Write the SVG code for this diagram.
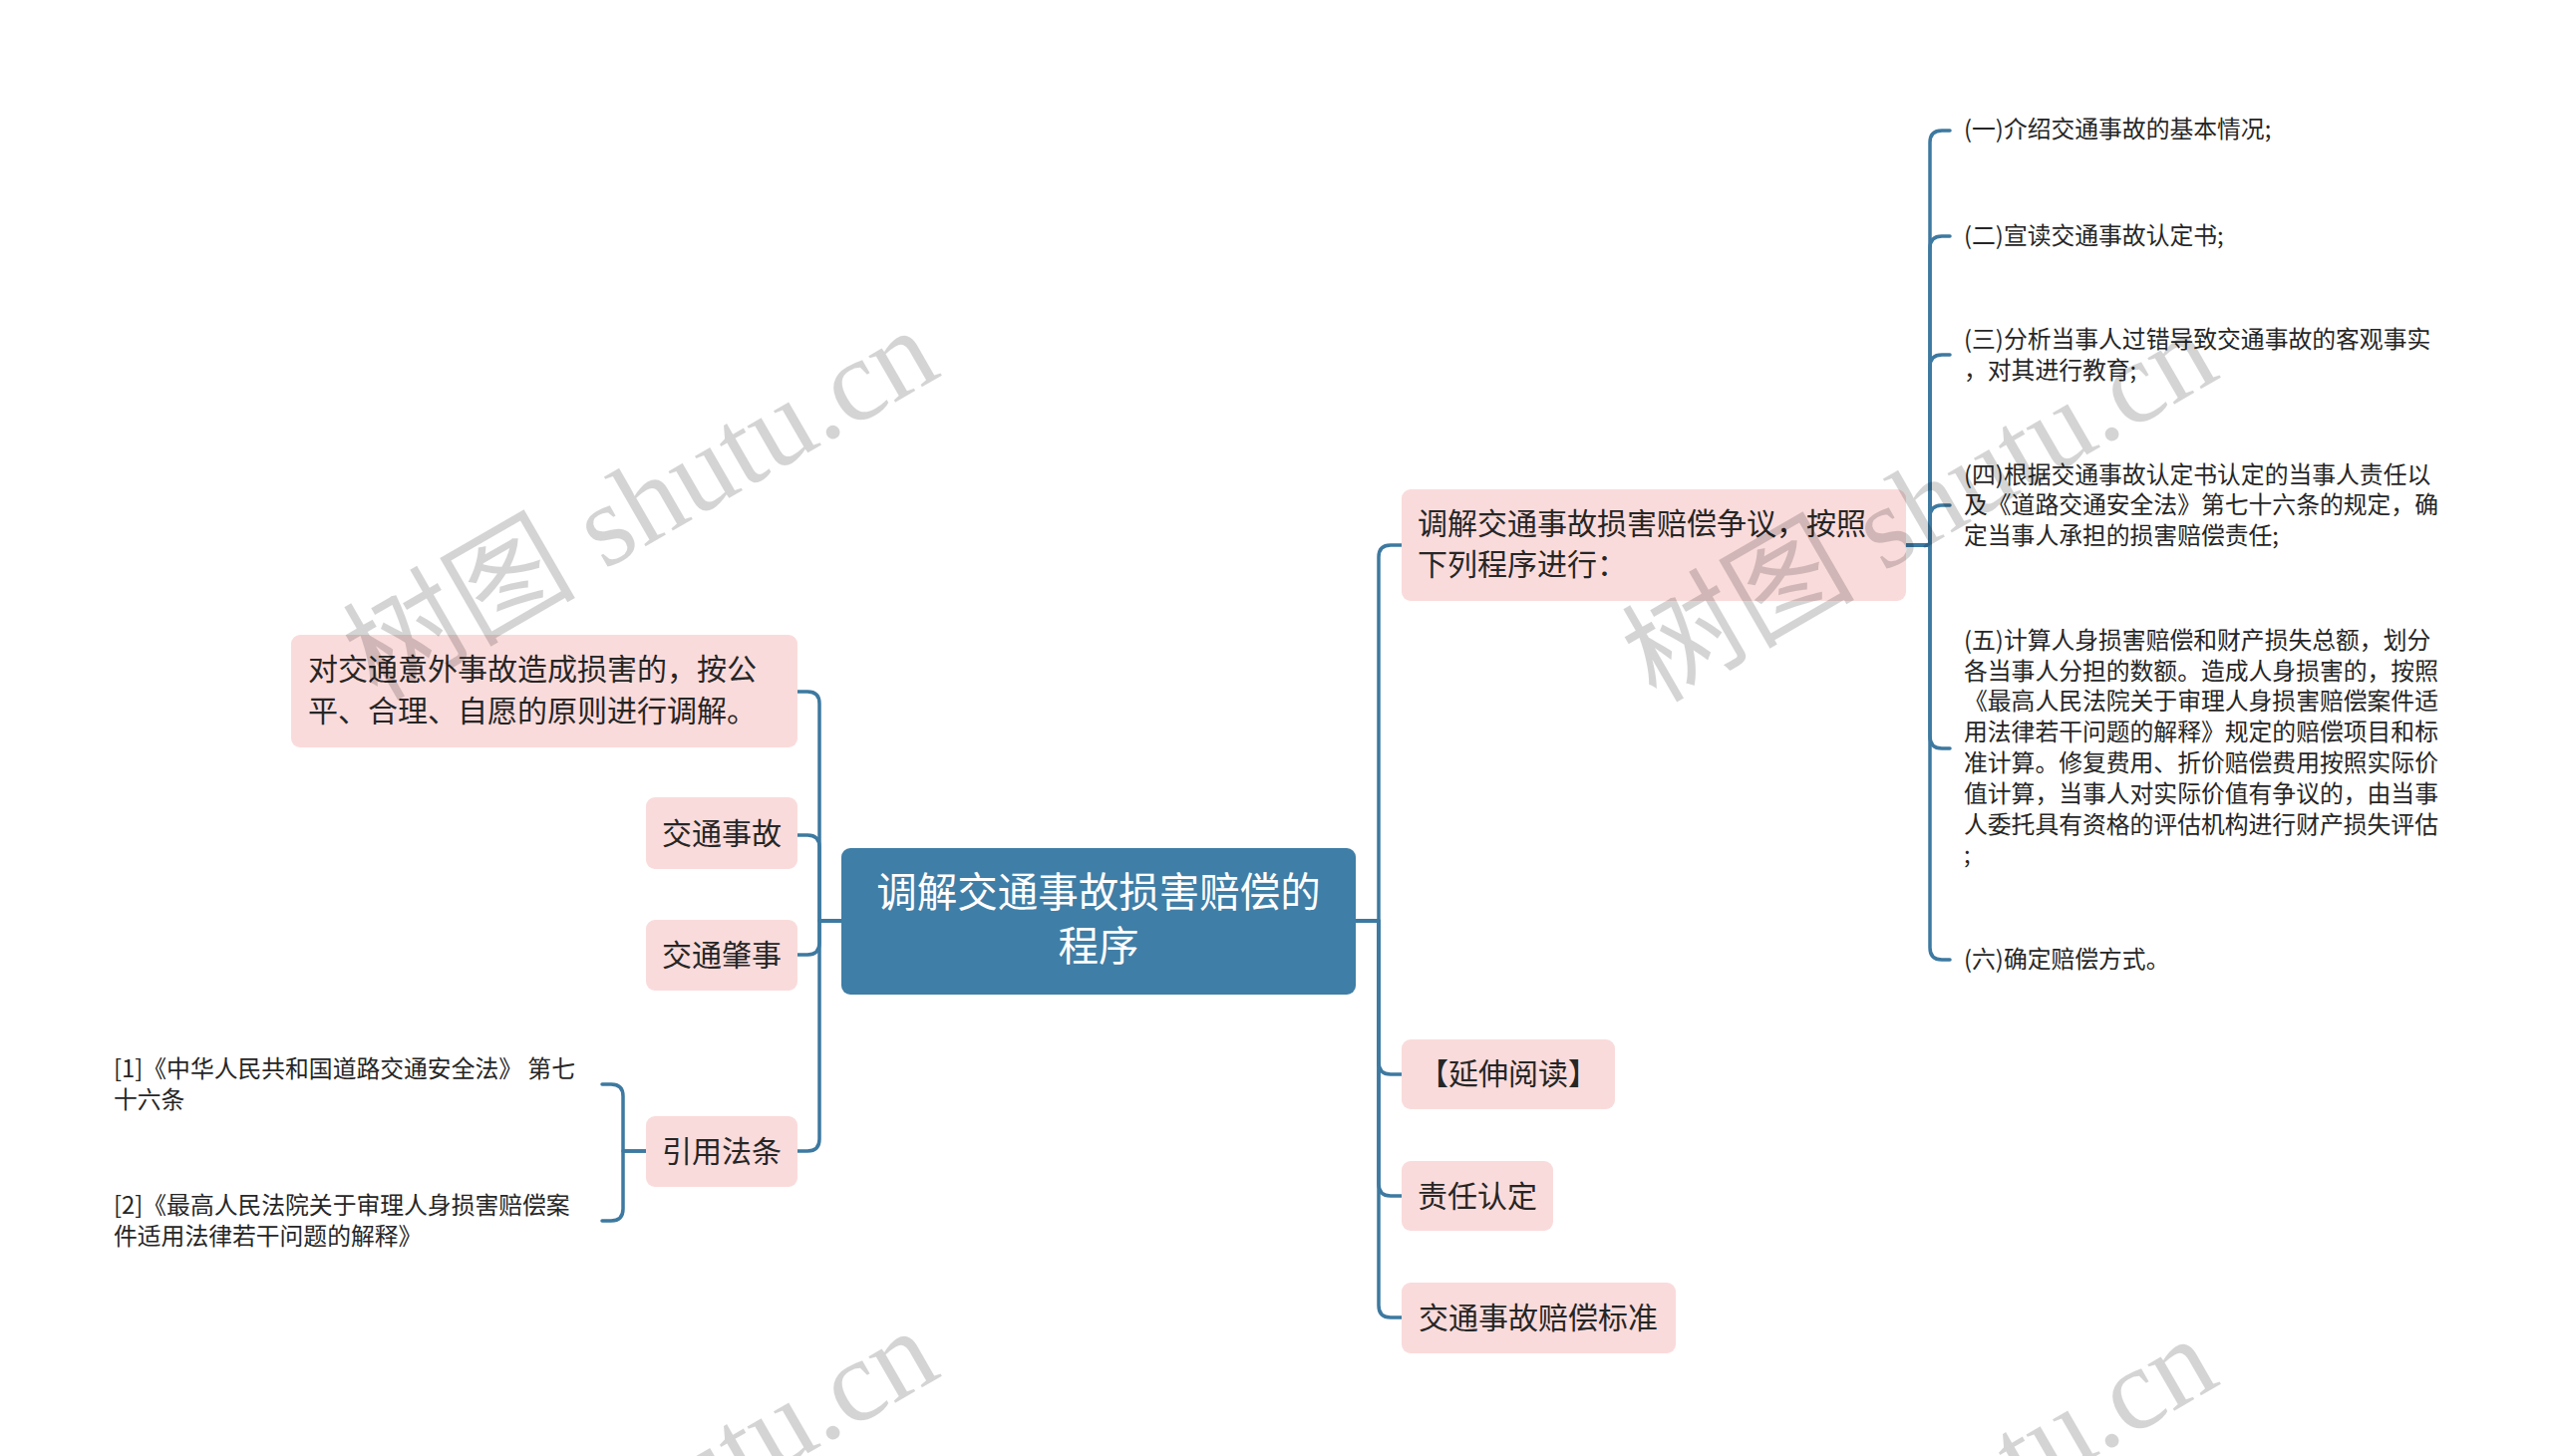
<svg xmlns="http://www.w3.org/2000/svg" width="2560" height="1461" viewBox="0 0 2560 1461">
<style>
.pk{fill:#fadbdb}
.t{font-family:"Noto Sans CJK SC","Noto Sans",sans-serif;fill:#262626}
.t30{font-size:30px}
.t23{font-size:23.8px}
.c{fill:none;stroke:#3d79a0;stroke-width:3.5;stroke-linecap:round;stroke-linejoin:round}
.wm{font-family:"Liberation Serif","Noto Sans CJK SC",serif;font-size:117px;fill:#000;fill-opacity:0.17}
</style>
<rect width="2560" height="1461" fill="#ffffff"/>
<g id="connectors">
<path class="c" d="M844 924H822V706Q822 694 810 694H800"/>
<path class="c" d="M844 924H822V850Q822 838 810 838H800"/>
<path class="c" d="M844 924H822V946Q822 958 810 958H800"/>
<path class="c" d="M844 924H822V1143Q822 1155 810 1155H800"/>
<path class="c" d="M648 1155H625V1100Q625 1088 613 1088H604"/>
<path class="c" d="M648 1155H625V1213Q625 1225 613 1225H604"/>
<path class="c" d="M1360 924H1383V559Q1383 547 1395 547H1406"/>
<path class="c" d="M1360 924H1383V1066Q1383 1078 1395 1078H1406"/>
<path class="c" d="M1360 924H1383V1188Q1383 1200 1395 1200H1406"/>
<path class="c" d="M1360 924H1383V1310Q1383 1322 1395 1322H1406"/>
<path class="c" d="M1912 547H1936V143Q1936 131 1948 131H1956"/>
<path class="c" d="M1912 547H1936V249Q1936 237 1948 237H1956"/>
<path class="c" d="M1912 547H1936V368Q1936 356 1948 356H1956"/>
<path class="c" d="M1912 547H1936V519Q1936 507 1948 507H1956"/>
<path class="c" d="M1912 547H1936V739Q1936 751 1948 751H1956"/>
<path class="c" d="M1912 547H1936V951Q1936 963 1948 963H1956"/>
</g>
<g id="root">
<rect x="844" y="851" width="516" height="147" rx="9" fill="#3f7ea6"/>
<text x="1102" y="910" text-anchor="middle" font-family="Noto Sans CJK SC,sans-serif" font-size="40.5" fill="#ffffff">调解交通事故损害赔偿的</text>
<text x="1102" y="964" text-anchor="middle" font-family="Noto Sans CJK SC,sans-serif" font-size="40.5" fill="#ffffff">程序</text>
</g>
<g id="n-principle">
<rect class="pk" x="292" y="637" width="508" height="113" rx="9"/>
<text class="t t30" x="309" y="682">对交通意外事故造成损害的，按公</text>
<text class="t t30" x="309" y="724">平、合理、自愿的原则进行调解。</text>
</g>
<g id="n-accident">
<rect class="pk" x="648" y="800" width="152" height="72" rx="9"/>
<text class="t t30" x="724" y="847" text-anchor="middle">交通事故</text>
</g>
<g id="n-hitrun">
<rect class="pk" x="648" y="923" width="152" height="71" rx="9"/>
<text class="t t30" x="724" y="969" text-anchor="middle">交通肇事</text>
</g>
<g id="n-law">
<rect class="pk" x="648" y="1120" width="152" height="71" rx="9"/>
<text class="t t30" x="724" y="1166" text-anchor="middle">引用法条</text>
</g>
<g id="law-1">
<text class="t t23" x="114" y="1081">[1]《中华人民共和国道路交通安全法》 第七</text>
<text class="t t23" x="114" y="1112">十六条</text>
</g>
<g id="law-2">
<text class="t t23" x="114" y="1218">[2]《最高人民法院关于审理人身损害赔偿案</text>
<text class="t t23" x="114" y="1249">件适用法律若干问题的解释》</text>
</g>
<g id="n-procedure">
<rect class="pk" x="1406" y="491" width="506" height="112" rx="9"/>
<text class="t t30" x="1422" y="536">调解交通事故损害赔偿争议，按照</text>
<text class="t t30" x="1422" y="577">下列程序进行：</text>
</g>
<g id="n-read">
<rect class="pk" x="1406" y="1043" width="214" height="70" rx="9"/>
<text class="t t30" x="1513" y="1088" text-anchor="middle">【延伸阅读】</text>
</g>
<g id="n-resp">
<rect class="pk" x="1406" y="1165" width="152" height="70" rx="9"/>
<text class="t t30" x="1482" y="1211" text-anchor="middle">责任认定</text>
</g>
<g id="n-standard">
<rect class="pk" x="1406" y="1287" width="275" height="71" rx="9"/>
<text class="t t30" x="1543" y="1333" text-anchor="middle">交通事故赔偿标准</text>
</g>
<g id="step-1"><text class="t t23" x="1970" y="138">(一)介绍交通事故的基本情况;</text></g>
<g id="step-2"><text class="t t23" x="1970" y="245">(二)宣读交通事故认定书;</text></g>
<g id="step-3">
<text class="t t23" x="1970" y="349">(三)分析当事人过错导致交通事故的客观事实</text>
<text class="t t23" x="1970" y="380">，对其进行教育;</text>
</g>
<g id="step-4">
<text class="t t23" x="1970" y="485">(四)根据交通事故认定书认定的当事人责任以</text>
<text class="t t23" x="1970" y="515">及《道路交通安全法》第七十六条的规定，确</text>
<text class="t t23" x="1970" y="546">定当事人承担的损害赔偿责任;</text>
</g>
<g id="step-5">
<text class="t t23" x="1970" y="651">(五)计算人身损害赔偿和财产损失总额，划分</text>
<text class="t t23" x="1970" y="682">各当事人分担的数额。造成人身损害的，按照</text>
<text class="t t23" x="1970" y="712">《最高人民法院关于审理人身损害赔偿案件适</text>
<text class="t t23" x="1970" y="743">用法律若干问题的解释》规定的赔偿项目和标</text>
<text class="t t23" x="1970" y="774">准计算。修复费用、折价赔偿费用按照实际价</text>
<text class="t t23" x="1970" y="805">值计算，当事人对实际价值有争议的，由当事</text>
<text class="t t23" x="1970" y="836">人委托具有资格的评估机构进行财产损失评估</text>
<text class="t t23" x="1970" y="866">;</text>
</g>
<g id="step-6"><text class="t t23" x="1970" y="971">(六)确定赔偿方式。</text></g>
<g id="watermarks">
<text class="wm" transform="translate(378 704) rotate(-30)">树图 shutu.cn</text>
<text class="wm" transform="translate(1661 706) rotate(-30)">树图 shutu.cn</text>
<text class="wm" transform="translate(378 1708) rotate(-30)">树图 shutu.cn</text>
<text class="wm" transform="translate(1661 1716) rotate(-30)">树图 shutu.cn</text>
</g>
</svg>
